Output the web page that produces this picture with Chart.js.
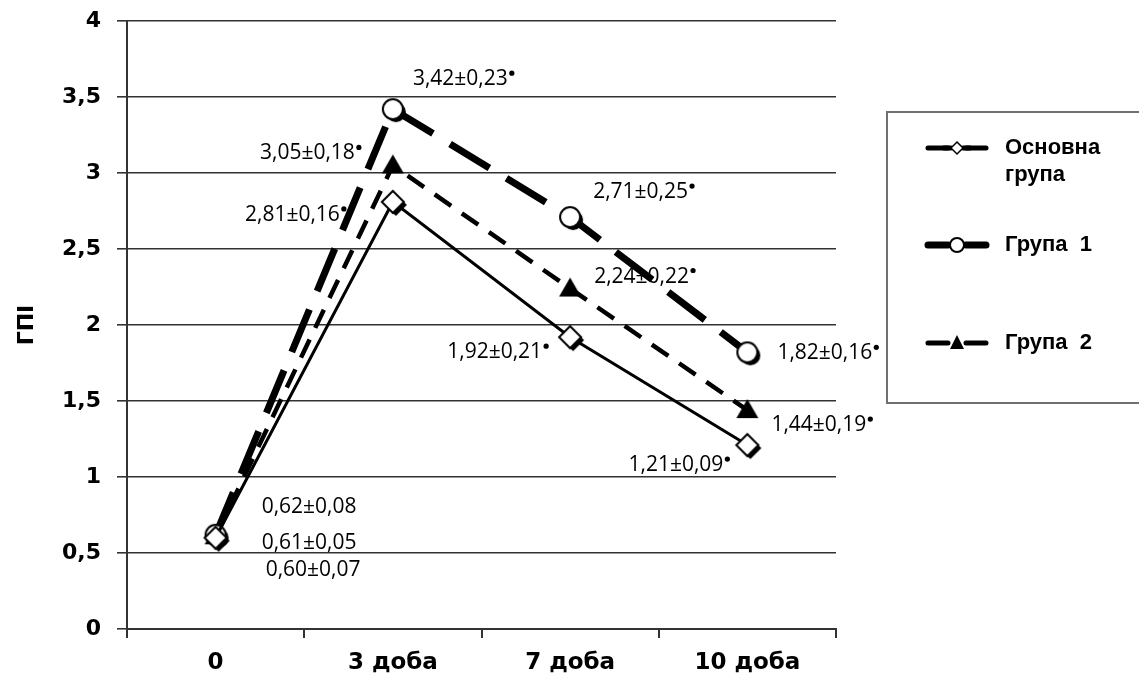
<!DOCTYPE html>
<html>
<head>
<meta charset="utf-8">
<script src="https://cdn.jsdelivr.net/npm/chart.js@4.4.1/dist/chart.umd.min.js"></script>
<style>
  html, body { margin: 0; background: #fff; }
  #wrap { width: 1139px; height: 682px; }
</style>
</head>
<body>
<div id="wrap"><canvas id="chart"></canvas></div>
<script>
// categories on x axis
const categories = ["0", "3 доба", "7 доба", "10 доба"];

// ГПІ values
const osnovna = [0.60, 2.81, 1.92, 1.21];
const grupa1 = [0.62, 3.42, 2.71, 1.82];
const grupa2 = [0.61, 3.05, 2.24, 1.44];

// text next to every point (mean ± error), sig = small raised dot
const osnovnaText = ["0,60±0,07", "2,81±0,16", "1,92±0,21", "1,21±0,09"];
const grupa1Text = ["0,62±0,08", "3,42±0,23", "2,71±0,25", "1,82±0,16"];
const grupa2Text = ["0,61±0,05", "3,05±0,18", "2,24±0,22", "1,44±0,19"];
const osnovnaSig = [false, true, true, true];
const grupa1Sig = [false, true, true, true];
const grupa2Sig = [false, true, true, true];

const seriesNames = ["Основна\nгрупа", "Група  1", "Група  2"];
const yTicks = [0, 0.5, 1, 1.5, 2, 2.5, 3, 3.5, 4];

// where the text sits relative to its point: [dx, dy, align]
const labelPos = [
  [[50, 32, "left"], [-45, 13, "right"], [-20, 15, "right"], [-16, 20, "right"]],
  [[46, -28, "left"], [20, -30, "left"], [23, -25, "left"], [30, 1, "left"]],
  [[46, 7, "left"], [-30, -12, "right"], [24, -12, "left"], [24, 15, "left"]]
];

const texts = [osnovnaText, grupa1Text, grupa2Text];
const sigs = [osnovnaSig, grupa1Sig, grupa2Sig];

// marker images with the little dark shadow seen in the picture
function makeMarker(kind) {
  const c = document.createElement("canvas");
  c.width = 34; c.height = 34;
  const g = c.getContext("2d");
  const m = 17;
  function path(ox, oy) {
    g.beginPath();
    if (kind === "diamond") {
      g.moveTo(m + ox, m - 11 + oy);
      g.lineTo(m + 11 + ox, m + oy);
      g.lineTo(m + ox, m + 11 + oy);
      g.lineTo(m - 11 + ox, m + oy);
      g.closePath();
    } else if (kind === "circle") {
      g.arc(m + ox, m + oy, 10, 0, Math.PI * 2);
    } else {
      g.moveTo(m + ox, m - 11 + oy);
      g.lineTo(m + 11 + ox, m + 8 + oy);
      g.lineTo(m - 11 + ox, m + 8 + oy);
      g.closePath();
    }
  }
  if (kind !== "triangle") {
    path(3, 3);
    g.fillStyle = "#000";
    g.fill();
    path(0, 0);
    g.fillStyle = "#fff";
    g.fill();
    g.lineWidth = 2;
    g.strokeStyle = "#000";
    g.stroke();
  } else {
    path(0, 0);
    g.fillStyle = "#000";
    g.fill();
  }
  return c;
}

const pointLabels = {
  id: "pointLabels",
  afterDatasetsDraw(chart) {
    const ctx = chart.ctx;
    ctx.save();
    ctx.fillStyle = "#000";
    ctx.textBaseline = "middle";
    chart.data.datasets.forEach((ds, i) => {
      const meta = chart.getDatasetMeta(i);
      meta.data.forEach((pt, j) => {
        const [dx, dy, align] = labelPos[i][j];
        const txt = texts[i][j];
        ctx.font = '21px "Open Sans"';
        const w = ctx.measureText(txt).width;
        const dotW = sigs[i][j] ? 8 : 0;
        let left = pt.x + dx;
        if (align === "right") left = pt.x + dx - w - dotW;
        const y = pt.y + dy;
        ctx.textAlign = "left";
        ctx.fillText(txt, left, y);
        if (sigs[i][j]) {
          ctx.beginPath();
          ctx.arc(left + w + 4, y - 6, 2.6, 0, Math.PI * 2);
          ctx.fill();
        }
      });
    });
    ctx.restore();
  }
};

const boxLegend = {
  id: "boxLegend",
  afterDraw(chart) {
    const ctx = chart.ctx;
    ctx.save();
    ctx.strokeStyle = "#707070";
    ctx.lineWidth = 2;
    ctx.strokeRect(887, 112, 270, 291);
    const rows = [148, 245, 343];
    chart.data.datasets.forEach((ds, i) => {
      const y = rows[i];
      ctx.strokeStyle = "#000";
      ctx.lineWidth = i === 1 ? 7 : 5;
      ctx.lineCap = "round";
      ctx.beginPath();
      ctx.moveTo(928, y); ctx.lineTo(948, y);
      ctx.moveTo(966, y); ctx.lineTo(986, y);
      ctx.stroke();
      if (i === 0) {
        ctx.beginPath();
        ctx.moveTo(944, y); ctx.lineTo(951, y); ctx.moveTo(963, y); ctx.lineTo(970, y);
        ctx.lineWidth = 5; ctx.stroke();
        ctx.beginPath();
        ctx.moveTo(957, y - 6); ctx.lineTo(963, y); ctx.lineTo(957, y + 6); ctx.lineTo(951, y);
        ctx.closePath();
        ctx.fillStyle = "#fff"; ctx.fill();
        ctx.lineWidth = 1.5; ctx.stroke();
      } else if (i === 1) {
        ctx.beginPath();
        ctx.arc(957, y, 7, 0, Math.PI * 2);
        ctx.fillStyle = "#fff"; ctx.fill();
        ctx.lineWidth = 2; ctx.stroke();
      } else {
        ctx.beginPath();
        ctx.moveTo(957, y - 8); ctx.lineTo(964, y + 6); ctx.lineTo(950, y + 6);
        ctx.closePath();
        ctx.fillStyle = "#000"; ctx.fill();
      }
      ctx.fillStyle = "#000";
      ctx.font = 'bold 22px "Liberation Sans"';
      ctx.textBaseline = "middle";
      ctx.textAlign = "left";
      ds.label.split("\n").forEach((line, k) => {
        ctx.fillText(line, 1005, y + k * 27);
      });
    });
    ctx.restore();
  }
};

new Chart(document.getElementById("chart"), {
  type: "line",
  data: {
    labels: categories,
    datasets: [
      {
        label: seriesNames[0],
        data: osnovna,
        borderColor: "#000",
        borderWidth: 3,
        pointStyle: makeMarker("diamond"),
        tension: 0
      },
      {
        label: seriesNames[1],
        data: grupa1,
        borderColor: "#000",
        borderWidth: 7,
        borderDash: [46, 20],
        pointStyle: makeMarker("circle"),
        tension: 0
      },
      {
        label: seriesNames[2],
        data: grupa2,
        borderColor: "#000",
        borderWidth: 4.5,
        borderDash: [20, 13],
        pointStyle: makeMarker("triangle"),
        tension: 0
      }
    ]
  },
  options: {
    responsive: true,
    maintainAspectRatio: false,
    animation: false,
    layout: { padding: { top: 21, right: 303, left: 0, bottom: 0 } },
    plugins: {
      legend: { display: false },
      tooltip: { enabled: false }
    },
    scales: {
      x: {
        offset: true,
        grid: {
          display: true,
          offset: true,
          drawOnChartArea: false,
          drawTicks: true,
          tickLength: 9,
          color: "#333",
          lineWidth: 2
        },
        border: { display: true, color: "#333", width: 2 },
        ticks: {
          color: "#000",
          padding: 11,
          font: { family: "DejaVu Sans", size: 23, weight: "bold" }
        },
        afterFit(scale) { scale.height = 53; }
      },
      y: {
        min: 0,
        max: 4,
        afterBuildTicks(scale) { scale.ticks = yTicks.map(v => ({ value: v })); },
        grid: {
          color: "#333",
          lineWidth: 1.6,
          drawTicks: true,
          tickLength: 10
        },
        border: { display: true, color: "#333", width: 2 },
        ticks: {
          color: "#000",
          padding: 16,
          font: { family: "DejaVu Sans", size: 22, weight: "bold", lineHeight: 1 },
          callback: v => String(v).replace(".", ",")
        },
        title: {
          display: true,
          text: "ГПІ",
          color: "#000",
          padding: { top: 14, bottom: 0 },
          font: { family: "DejaVu Sans", size: 22, weight: "bold" }
        },
        afterFit(scale) {
          scale.width = 127;
          scale.paddingTop = 0;
        }
      }
    }
  },
  plugins: [pointLabels, boxLegend]
});
</script>
</body>
</html>
